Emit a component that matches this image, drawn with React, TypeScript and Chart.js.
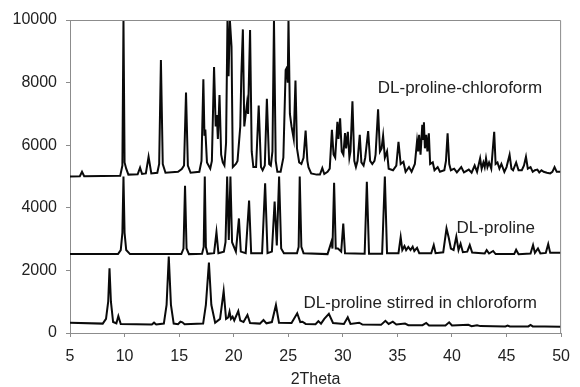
import React, { useEffect, useRef } from "react";
import { Chart, registerables } from "chart.js";

Chart.register(...registerables);

const FONT = '"Liberation Sans", Arial, Helvetica, sans-serif';

const xTicksMinMax = [5, 50];
const yTicksMinMax = [0, 10000];
const xStep = 5;
const yStep = 2000;
const xTitle = "2Theta";

// DL-proline-chloroform (upper trace) [2theta, counts]
const chloroformPoints: [number, number][] = [
  [5, 5000], [5.9, 5010], [6.1, 5150], [6.3, 5010],
  [9.6, 5020], [9.8, 5350], [9.9, 10000], [10.0, 5450], [10.15, 5250], [10.35, 5060],
  [11.2, 5070], [11.42, 5280], [11.6, 5080],
  [11.95, 5100], [12.2, 5630], [12.45, 5100],
  [13.0, 5120], [13.17, 5400], [13.33, 8720], [13.5, 5400], [13.75, 5120],
  [14.9, 5150], [15.24, 5240], [15.45, 5350], [15.63, 7680], [15.8, 5350], [16.05, 5120],
  [16.85, 5150], [17.05, 5500], [17.22, 8110], [17.32, 6300], [17.4, 6500], [17.55, 5450], [17.85, 5250],
  [18.0, 5500], [18.2, 8500], [18.35, 6600], [18.45, 6960], [18.55, 6200], [18.7, 7600], [18.85, 5700],
  [19.0, 5450], [19.15, 5350], [19.3, 6070], [19.43, 10000], [19.53, 8200], [19.65, 10000], [19.8, 9150], [19.92, 5300],
  [20.2, 5400], [20.35, 5500], [20.6, 6590], [20.7, 8240], [20.84, 9700], [20.97, 6600],
  [21.22, 7340], [21.32, 7000], [21.5, 9680], [21.65, 5800], [21.8, 5300],
  [22.05, 5300], [22.29, 7270], [22.5, 5300], [22.65, 5200],
  [22.85, 5350], [23.04, 7480], [23.25, 5400], [23.4, 5350], [23.55, 5800], [23.69, 10000], [23.85, 5500],
  [24.0, 5150], [24.3, 5150], [24.55, 5600], [24.76, 8400], [24.86, 8470], [24.95, 8000], [25.02, 10000],
  [25.15, 7000], [25.3, 6600], [25.5, 6200], [25.66, 8070], [25.8, 5900], [26.0, 5450], [26.2, 5400],
  [26.4, 5600], [26.59, 6470], [26.75, 5500], [26.85, 5300], [27.1, 5100],
  [27.6, 5060], [27.9, 5060], [28.12, 5270], [28.3, 5080], [28.6, 5150], [28.8, 5250],
  [29.0, 6490], [29.15, 5700], [29.3, 5600], [29.5, 6750], [29.6, 6200], [29.75, 6860], [29.9, 5800],
  [30.05, 5700], [30.2, 6390], [30.3, 5900], [30.46, 6430], [30.6, 5600], [30.7, 5800], [30.88, 7400],
  [31.05, 5500], [31.2, 5300], [31.35, 5500], [31.55, 6330], [31.7, 5450], [31.9, 5350], [32.05, 5600],
  [32.32, 6450], [32.5, 5500], [32.7, 5400], [32.9, 5500], [33.0, 5700], [33.23, 7150], [33.4, 5800],
  [33.55, 5900], [33.69, 6300], [33.85, 5600], [34.05, 5800], [34.2, 5250], [34.6, 5200],
  [34.9, 5350], [35.1, 6110], [35.3, 5400], [35.55, 5470], [35.75, 5150], [36.06, 5300], [36.3, 5150],
  [36.6, 5400], [36.8, 6130], [36.9, 5800], [36.99, 6330], [37.12, 5700], [37.28, 6650], [37.36, 6200],
  [37.43, 6730], [37.52, 5900], [37.64, 6330], [37.75, 5800], [37.88, 6380], [38.0, 5400], [38.24, 5450],
  [38.4, 5200], [38.69, 5300], [38.9, 5150], [39.3, 5200], [39.45, 5500], [39.6, 6380], [39.75, 5400],
  [39.9, 5200], [40.2, 5250], [40.45, 5130], [40.85, 5300], [41.1, 5130], [41.54, 5220], [41.8, 5120],
  [42.08, 5350], [42.3, 5150], [42.58, 5580], [42.72, 5250], [42.88, 5450], [43.0, 5300], [43.12, 5580],
  [43.25, 5300], [43.4, 5450], [43.6, 5250], [43.87, 6430], [44.0, 5400], [44.17, 5450], [44.35, 5250],
  [44.53, 5400], [44.8, 5150], [45.0, 5300], [45.28, 5690], [45.45, 5250], [45.6, 5200], [45.88, 5450],
  [46.1, 5200], [46.4, 5200], [46.6, 5350], [46.78, 5630], [46.95, 5250], [47.2, 5300], [47.4, 5150],
  [47.6, 5200], [47.83, 5220], [48.0, 5130], [48.2, 5200], [48.4, 5150], [48.7, 5120], [49.0, 5100],
  [49.2, 5150], [49.4, 5300], [49.6, 5150], [50, 5150],
];

// DL-proline (middle trace)
const prolinePoints: [number, number][] = [
  [5, 2520], [9.4, 2520], [9.65, 2650], [9.8, 3200], [9.9, 5000], [10.0, 3200], [10.15, 2650], [10.5, 2520],
  [15.2, 2520], [15.4, 2700], [15.54, 4700], [15.68, 2700], [15.9, 2520],
  [17.1, 2530], [17.25, 2750], [17.35, 5000], [17.45, 2750], [17.6, 2530],
  [18.2, 2550], [18.42, 3220], [18.6, 2550],
  [19.1, 2600], [19.25, 2900], [19.4, 5000], [19.55, 2970], [19.7, 5000], [19.85, 2900], [20.2, 2600],
  [20.48, 3660], [20.65, 2600], [21.1, 2550], [21.41, 4230], [21.6, 2550],
  [22.6, 2550], [22.88, 4780], [23.1, 2550], [23.5, 2600], [23.75, 4200], [23.95, 2800],
  [24.16, 5000], [24.35, 2700], [24.6, 2550],
  [25.8, 2550], [25.95, 2750], [26.05, 5000], [26.2, 2750], [26.4, 2550],
  [28.6, 2520], [28.96, 2920], [29.05, 2700], [29.2, 4800], [29.35, 2700], [29.55, 2700], [29.7, 2650],
  [29.85, 2600], [30.04, 3500], [30.2, 2550],
  [32.0, 2530], [32.2, 4830], [32.4, 2530],
  [33.6, 2530], [33.85, 5000], [34.05, 2550],
  [35.1, 2550], [35.3, 3060], [35.45, 2650], [35.65, 2780], [35.8, 2650], [36.0, 2750], [36.2, 2650],
  [36.4, 2760], [36.55, 2620], [36.8, 2720], [37.0, 2550],
  [38.1, 2550], [38.33, 2810], [38.5, 2550],
  [39.2, 2580], [39.5, 3340], [39.7, 3050], [39.9, 2700], [40.15, 2650], [40.4, 3080], [40.6, 2650],
  [40.79, 2850], [41.0, 2580], [41.4, 2600], [41.63, 2810], [41.85, 2570],
  [43.0, 2540], [43.18, 2650], [43.4, 2540], [43.77, 2620], [44.0, 2520],
  [45.7, 2520], [45.88, 2660], [46.1, 2520],
  [47.2, 2540], [47.43, 2810], [47.6, 2560], [47.88, 2700], [48.1, 2540],
  [48.6, 2560], [48.82, 2840], [49.0, 2560], [50, 2560],
];

// DL-proline stirred in chloroform (lower trace)
const stirredPoints: [number, number][] = [
  [5, 330], [8.0, 300], [8.3, 450], [8.5, 1000], [8.62, 2070], [8.75, 1000], [8.95, 350],
  [9.25, 310], [9.43, 540], [9.65, 290],
  [12.5, 270], [12.7, 330], [12.9, 270],
  [13.6, 300], [13.85, 900], [14.05, 2440], [14.25, 900], [14.5, 300],
  [14.9, 280], [15.12, 360], [15.3, 340], [15.5, 280],
  [17.2, 300], [17.45, 900], [17.73, 2250], [17.95, 900], [18.3, 330],
  [18.75, 450], [19.08, 1340], [19.3, 450], [19.5, 500], [19.62, 680], [19.75, 450], [19.9, 520],
  [20.05, 400], [20.42, 700], [20.6, 400], [20.9, 350], [21.26, 575], [21.5, 320],
  [22.4, 300], [22.73, 415], [23.0, 310], [23.5, 350], [23.87, 895], [24.15, 330],
  [25.3, 320], [25.82, 630], [26.1, 350], [26.3, 360], [26.6, 290],
  [27.5, 280], [27.76, 380], [28.0, 300], [28.3, 450], [28.72, 610], [29.1, 320],
  [30.1, 290], [30.45, 500], [30.7, 290], [31.5, 330], [31.8, 270],
  [33.5, 260], [33.9, 390], [34.2, 290], [34.58, 360], [34.9, 270], [35.7, 300], [36.0, 250],
  [37.3, 250], [37.64, 320], [37.9, 240], [39.4, 240], [39.74, 340], [40.0, 240],
  [41.5, 260], [41.8, 220], [42.3, 250], [42.6, 220], [44.9, 210], [45.1, 240], [45.3, 210],
  [47.0, 210], [47.2, 260], [47.4, 210], [48.5, 210], [50, 200],
];

const seriesNames = ["DL-proline-chloroform", "DL-proline", "DL-proline stirred in chloroform"];
const labelX = [33.2, 40.42, 26.4];
const labelY = [7830, 3355, 958];

const frameColor = "#8c8c8c";
const textColor = "#222222";
const lineColor = "#0a0a0a";

const decorPlugin = {
  id: "decor",
  afterDraw(chart: any) {
    const { ctx, chartArea: a, scales } = chart;
    ctx.save();
    ctx.strokeStyle = frameColor;
    ctx.lineWidth = 1;
    ctx.beginPath();
    ctx.moveTo(a.left + 0.5, a.top + 0.5);
    ctx.lineTo(a.right - 0.5, a.top + 0.5);
    ctx.lineTo(a.right - 0.5, a.bottom + 0.5);
    ctx.stroke();
    ctx.fillStyle = textColor;
    ctx.font = `17px ${FONT}`;
    ctx.textBaseline = "middle";
    ctx.textAlign = "left";
    seriesNames.forEach((name, i) => {
      ctx.fillText(name, scales.x.getPixelForValue(labelX[i]), scales.y.getPixelForValue(labelY[i]));
    });
    ctx.restore();
  },
};

export default function App() {
  const ref = useRef<HTMLCanvasElement | null>(null);
  useEffect(() => {
    document.body.style.margin = "0";
    const toXY = (pts: [number, number][]) => pts.map(([x, y]) => ({ x, y }));
    const ds = (pts: [number, number][]) => ({
      data: toXY(pts),
      borderColor: lineColor,
      borderWidth: 2,
      pointRadius: 0,
      fill: false,
      tension: 0,
    });
    const chart = new Chart(ref.current as HTMLCanvasElement, {
      type: "line",
      data: { datasets: [ds(stirredPoints), ds(prolinePoints), ds(chloroformPoints)] as any },
      options: {
        animation: false,
        responsive: false,
        devicePixelRatio: 1,
        parsing: false as any,
        layout: { padding: { top: 20, right: 9, left: 0, bottom: 0 } },
        plugins: { legend: { display: false }, tooltip: { enabled: false } },
        scales: {
          x: {
            type: "linear",
            min: xTicksMinMax[0],
            max: xTicksMinMax[1],
            ticks: { stepSize: xStep, font: { size: 16, family: FONT }, color: textColor, padding: 10, maxRotation: 0, autoSkip: false, callback: (v: any) => String(v) },
            grid: { drawOnChartArea: false, tickLength: 4, color: frameColor },
            border: { display: true, color: frameColor },
            title: { display: true, text: xTitle, font: { size: 16, family: FONT, lineHeight: 1 }, color: textColor, padding: { top: 0, bottom: -1 } },
            afterFit: (s: any) => { s.height = 54; },
          },
          y: {
            type: "linear",
            min: yTicksMinMax[0],
            max: yTicksMinMax[1],
            ticks: { stepSize: yStep, font: { size: 16, family: FONT }, color: textColor, padding: 9, callback: (v: any) => String(v) },
            grid: { drawOnChartArea: false, tickLength: 4, color: frameColor },
            border: { display: true, color: frameColor },
            afterFit: (s: any) => { s.width = 70; },
          },
        },
      },
      plugins: [decorPlugin],
    });
    return () => chart.destroy();
  }, []);
  return (
    <div style={{ width: 580, height: 387, background: "#fff" }}>
      <canvas ref={ref} width={580} height={387} />
    </div>
  );
}
